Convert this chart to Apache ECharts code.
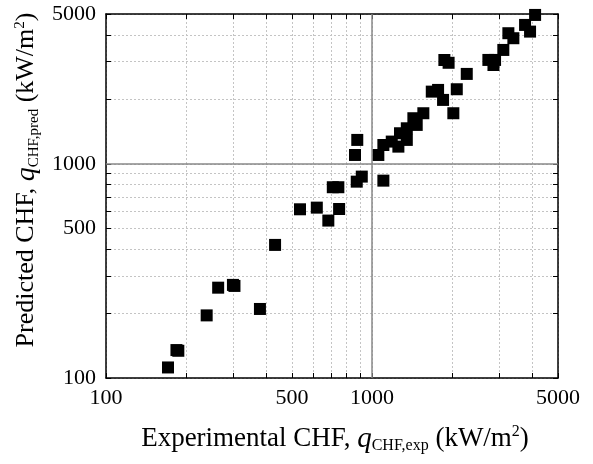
<!DOCTYPE html>
<html>
<head>
<meta charset="utf-8">
<script src="https://cdn.jsdelivr.net/npm/echarts@6/dist/echarts.min.js"></script>
<style>html,body{margin:0;padding:0;background:#fff}#c{width:593px;height:464px}</style>
</head>
<body>
<div id="c"></div>
<script>
const expCHF = [171,184,187,239,264,300,304,379,432,536,620,685,752,712,747,880,863,876,915,1103,1056,1103,1186,1256,1351,1351,1430,1472,1559,1677,1771,1849,2082,2021,1870,1940,2270,2737,2900,2860,3115,3254,3398,3760,3926,4101,1274];
const predCHF = [112,135,134,196,264,272,269,210,418,613,624,543,615,777,777,1292,1099,825,871,834,1099,1223,1269,1202,1292,1464,1631,1518,1721,2171,2211,1986,2227,1721,3050,2960,2626,3052,3052,2890,3398,4067,3854,4446,4138,4950,1388];
const labelTicks = [100,500,1000,5000];
const gridTicks = [100,200,300,400,500,600,700,800,900,1000,2000,3000,4000,5000];
const refLine = [1000];

const font = 'Liberation Serif, Times New Roman, serif';
const chart = echarts.init(document.getElementById('c'), null, {renderer:'canvas'});
const points = expCHF.map((x,i)=>[x,predCHF[i]]);

function mkRich(sz) {
  return {
    t:{fontFamily:font, fontSize:sz, color:'#000'},
    q:{fontFamily:font, fontSize:sz+2, fontStyle:'italic', color:'#000'},
    s:{fontFamily:font, fontSize:Math.round(sz*0.58), color:'#000', padding:[14,0,0,0]},
    p:{fontFamily:font, fontSize:Math.round(sz*0.58), color:'#000', padding:[0,0,14,0]}
  };
}
const fmt = v=>String(Math.round(v));

function mkAxis(pos, show, extra) {
  return Object.assign({
    type:'log', logBase:10, min:100, max:5000, position:pos,
    axisLine:{show:true, onZero:false, lineStyle:{color:'#000', width:1.5}},
    axisTick:{show:true, inside:true, length:5, customValues:gridTicks, lineStyle:{color:'#000', width:1}},
    axisLabel:{show:show, customValues:labelTicks, color:'#000', fontFamily:font, fontSize:22, formatter:fmt},
    splitLine:{show:show, lineStyle:{color:'#c4c4c4', type:[2,2], width:1}},
    minorTick:{show:false}
  }, extra);
}

const option = {
  animation:false,
  grid:{left:106, right:35, top:14, bottom:86},
  xAxis:[
    mkAxis('bottom', true, {
      name:'{t|Experimental CHF, }{q|q}{s|CHF,exp}{t| (kW/m}{p|2}{t|)}',
      nameLocation:'middle', nameGap:46,
      axisLabel:{show:true, customValues:labelTicks, color:'#000', fontFamily:font, fontSize:22, margin:9, formatter:fmt},
      nameTextStyle:{padding:[0,0,0,6], rich:mkRich(27)}
    }),
    mkAxis('top', false, {})
  ],
  yAxis:[
    mkAxis('left', true, {
      name:'{t|Predicted CHF, }{q|q}{s|CHF,pred}{t| (kW/m}{p|2}{t|)}',
      nameLocation:'middle', nameGap:53, nameRotate:90,
      axisLabel:{show:true, customValues:labelTicks, color:'#000', fontFamily:font, fontSize:22, margin:10, formatter:fmt},
      nameTextStyle:{padding:[0,0,0,32], rich:mkRich(26)}
    }),
    mkAxis('right', false, {})
  ],
  series:[{
    type:'scatter', xAxisIndex:0, yAxisIndex:0, data:points,
    symbol:'rect', symbolSize:12, itemStyle:{color:'#000', opacity:1}, clip:true,
    emphasis:{disabled:true},
    markLine:{silent:true, symbol:'none', label:{show:false},
      lineStyle:{color:'#888', type:'solid', width:1.5},
      data:[...refLine.map(v=>({xAxis:v})), ...refLine.map(v=>({yAxis:v}))]
    }
  }]
};
chart.setOption(option);
</script>
</body>
</html>
